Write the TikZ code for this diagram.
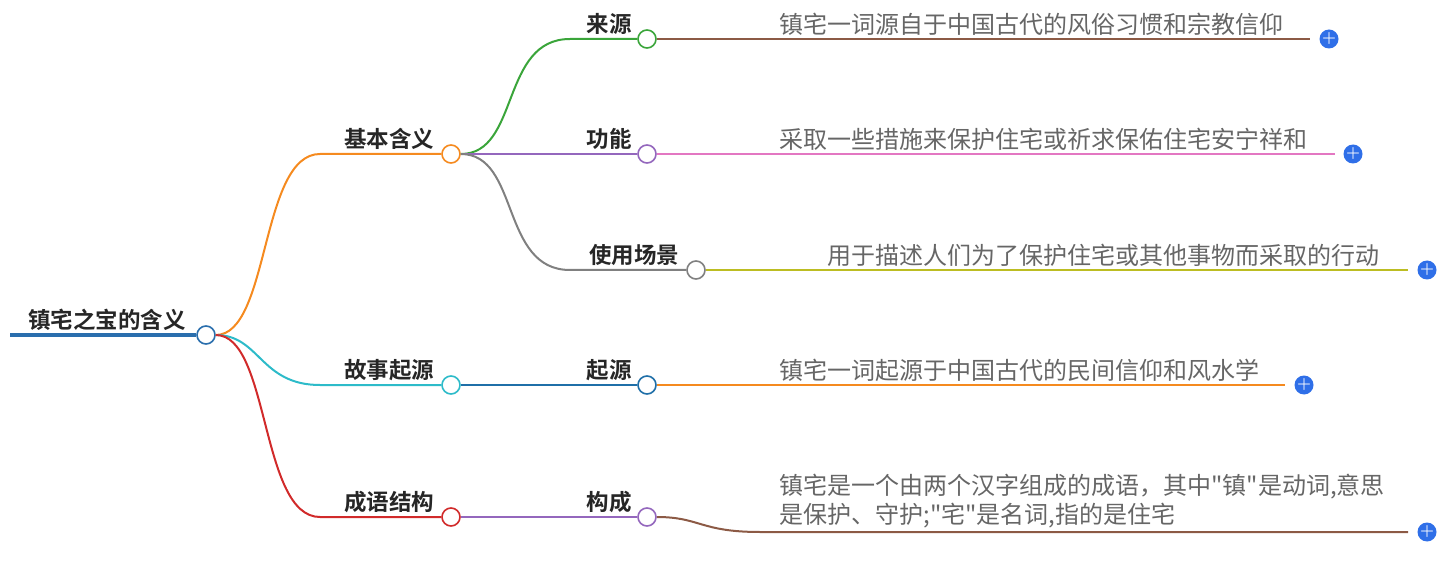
\documentclass[tikz,border=0pt]{standalone}
\usepackage{fontspec}
\newfontfamily\cjk[BoldFont={Noto Sans CJK SC Bold}]{Noto Sans CJK SC}
\definecolor{cRoot}{HTML}{2A6EAD}
\definecolor{cOrange}{HTML}{F58A1F}
\definecolor{cCyan}{HTML}{2DBBC9}
\definecolor{cRed}{HTML}{D12A2A}
\definecolor{cGreen}{HTML}{3AA53A}
\definecolor{cPurple}{HTML}{9467BD}
\definecolor{cGray}{HTML}{808080}
\definecolor{cBlue}{HTML}{1F6FA8}
\definecolor{cBrown}{HTML}{8C5A45}
\definecolor{cPink}{HTML}{E377C2}
\definecolor{cOlive}{HTML}{BCBD22}
\definecolor{cPlus}{HTML}{2F6FE8}
\tikzset{
  topic/.style={font=\cjk\fontsize{22.5}{26}\selectfont\bfseries, text=black!85, anchor=south},
  leaf/.style={font=\cjk\fontsize{24}{29}\selectfont, text=black!60, anchor=south west, align=left},
  knob/.style={circle, draw=#1, line width=1.6pt, fill=white, minimum size=18pt, inner sep=0pt},
  plus/.style={circle, fill=cPlus, minimum size=19pt, inner sep=0pt, text=white, font=\bfseries\fontsize{16}{16}\selectfont},
  edge/.style={line width=2pt, draw=#1},
}
\begin{document}
\begin{tikzpicture}[x=1pt,y=-1pt]
\useasboundingbox (0,0) rectangle (1456,561);
% root
\coordinate (r0) at (10,335);
\node[knob=cRoot] (root) at (206,335) {};
\node[topic] (rootT) at (107,334) {镇宅之宝的含义};
% level one
\node[knob=cOrange] (k1) at (451,154) {};
\node[knob=cCyan] (k2) at (451,385) {};
\node[knob=cRed] (k3) at (451,517) {};
\node[topic] (t1) at (389,153) {基本含义};
\node[topic] (t2) at (389,384) {故事起源};
\node[topic] (t3) at (389,516) {成语结构};
\draw[edge=cRoot, line width=4pt] (r0) -- (root.west);
\draw[edge=cOrange] (root.east) .. controls (270,335) and (260,154) .. (320,154) -- (k1.west);
\draw[edge=cCyan] (root.east) .. controls (260,335) and (260,385) .. (320,385) -- (k2.west);
\draw[edge=cRed] (root.east) .. controls (270,335) and (260,517) .. (320,517) -- (k3.west);
% level two
\node[knob=cGreen] (s1) at (647,39) {};
\node[knob=cPurple] (s2) at (647,154) {};
\node[knob=cGray] (s3) at (696,270) {};
\node[knob=cBlue] (s4) at (647,385) {};
\node[knob=cPurple] (s5) at (647,517) {};
\node[topic] (u1) at (609,38) {来源};
\node[topic] (u2) at (609,153) {功能};
\node[topic] (u3) at (634,269) {使用场景};
\node[topic] (u4) at (609,384) {起源};
\node[topic] (u5) at (609,516) {构成};
\draw[edge=cGreen] (k1.east) .. controls (520,154) and (500,39) .. (570,39) -- (s1.west);
\draw[edge=cPurple] (k1.east) -- (s2.west);
\draw[edge=cGray] (k1.east) .. controls (520,154) and (500,270) .. (570,270) -- (s3.west);
\draw[edge=cBlue] (k2.east) -- (s4.west);
\draw[edge=cPurple] (k3.east) -- (s5.west);
% leaves
\coordinate (e1) at (1310,39);
\coordinate (e2) at (1335,154);
\coordinate (e3) at (1408,270);
\coordinate (e4) at (1285,385);
\coordinate (e5) at (1408,532);
\draw[edge=cBrown] (s1.east) -- (e1);
\draw[edge=cPink] (s2.east) -- (e2);
\draw[edge=cOlive] (s3.east) -- (e3);
\draw[edge=cOrange] (s4.east) -- (e4);
\draw[edge=cBrown] (s5.east) .. controls (700,517) and (700,532) .. (760,532) -- (e5);
\node[leaf] (l1) at (776,39) {镇宅一词源自于中国古代的风俗习惯和宗教信仰};
\node[leaf] (l2) at (776,154) {采取一些措施来保护住宅或祈求保佑住宅安宁祥和};
\node[leaf] (l3) at (824,270) {用于描述人们为了保护住宅或其他事物而采取的行动};
\node[leaf] (l5) at (776,532) {镇宅是一个由两个汉字组成的成语，其中"镇"是动词,意思\\是保护、守护;"宅"是名词,指的是住宅};
\node[leaf] (l4) at (776,385) {镇宅一词起源于中国古代的民间信仰和风水学};
\node[plus] (p1) at (1329,39) {+};
\node[plus] (p2) at (1353,154) {+};
\node[plus] (p3) at (1427,270) {+};
\node[plus] (p4) at (1304,385) {+};
\node[plus] (p5) at (1427,532) {+};
\end{tikzpicture}
\end{document}
